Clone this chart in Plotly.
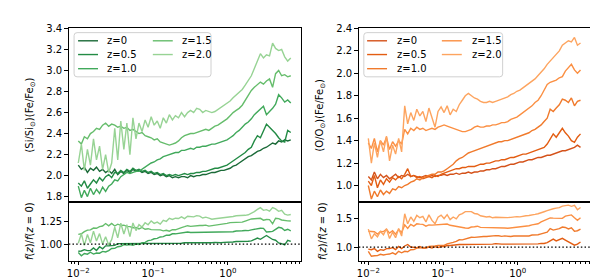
import numpy as np
import plotly.graph_objects as go

W, H = 598, 280

# log10 of x positions
log_x = [-2.000, -1.959, -1.919, -1.878, -1.838, -1.797, -1.757, -1.716, -1.675, -1.635,
         -1.594, -1.554, -1.513, -1.473, -1.432, -1.391, -1.351, -1.310, -1.270, -1.229,
         -1.189, -1.148, -1.107, -1.067, -1.026, -0.986, -0.945, -0.905, -0.864, -0.823,
         -0.783, -0.742, -0.702, -0.661, -0.621, -0.580, -0.539, -0.499, -0.458, -0.418,
         -0.377, -0.337, -0.296, -0.255, -0.215, -0.174, -0.134, -0.093, -0.053, -0.012,
         0.029, 0.069, 0.110, 0.150, 0.191, 0.231, 0.272, 0.313, 0.353, 0.394,
         0.434, 0.475, 0.515, 0.556, 0.597, 0.637, 0.678, 0.718, 0.759, 0.799, 0.840]

labels = ["z=0", "z=0.5", "z=1.0", "z=1.5", "z=2.0"]

si_z0 = [2.10, 2.06, 2.08, 2.03, 2.07, 2.05, 2.08, 2.04, 2.06, 2.03,
         2.05, 2.02, 2.06, 2.01, 2.04, 2.02, 2.05, 2.03, 2.06, 2.04,
         2.05, 2.03, 2.04, 2.02, 2.03, 2.01, 2.02, 2.00, 2.01, 1.99,
         2.00, 1.98, 1.99, 1.98, 1.99, 1.99, 1.98, 2.00, 1.99, 2.00,
         2.00, 2.01, 2.01, 2.02, 2.03, 2.03, 2.04, 2.05, 2.05, 2.06,
         2.07, 2.09, 2.10, 2.12, 2.14, 2.16, 2.18, 2.19, 2.21, 2.23,
         2.24, 2.26, 2.27, 2.29, 2.31, 2.30, 2.33, 2.32, 2.34, 2.33, 2.34]
si_z05 = [1.93, 1.90, 1.95, 1.88, 1.92, 1.96, 1.93, 1.98, 1.95, 1.99,
          2.01, 1.98, 2.03, 2.02, 2.05, 2.03, 2.06, 2.04, 2.07, 2.05,
          2.06, 2.04, 2.05, 2.03, 2.04, 2.02, 2.03, 2.01, 2.02, 2.00,
          2.01, 2.00, 2.01, 2.00, 2.01, 2.02, 2.01, 2.02, 2.02, 2.03,
          2.03, 2.04, 2.04, 2.05, 2.06, 2.07, 2.07, 2.08, 2.09, 2.10,
          2.12, 2.14, 2.16, 2.18, 2.20, 2.22, 2.25, 2.27, 2.33, 2.38,
          2.36, 2.42, 2.49, 2.46, 2.43, 2.40, 2.36, 2.33, 2.32, 2.43, 2.41]
si_z10 = [1.90, 1.79, 1.86, 1.80, 1.88, 1.82, 1.87, 1.83, 1.89, 1.85,
          1.90, 1.92, 1.96, 1.95, 1.99, 2.01, 2.03, 2.02, 2.03, 2.04,
          2.04, 2.06, 2.08, 2.10, 2.12, 2.13, 2.15, 2.16, 2.18, 2.19,
          2.20, 2.21, 2.22, 2.22, 2.24, 2.24, 2.25, 2.26, 2.25, 2.27,
          2.27, 2.28, 2.28, 2.29, 2.30, 2.30, 2.31, 2.32, 2.33, 2.34,
          2.36, 2.38, 2.41, 2.43, 2.46, 2.49, 2.51, 2.54, 2.58, 2.61,
          2.64, 2.66, 2.58, 2.61, 2.64, 2.68, 2.77, 2.74, 2.70, 2.72, 2.69]
si_z15 = [2.33, 2.30, 2.37, 2.35, 2.40, 2.42, 2.45, 2.44, 2.48, 2.50,
          2.47, 2.49, 2.48, 2.46, 2.47, 2.45, 2.46, 2.43, 2.44, 2.42,
          2.40, 2.41, 2.38, 2.37, 2.36, 2.34, 2.35, 2.32, 2.31, 2.30,
          2.29, 2.30, 2.31, 2.33, 2.36, 2.38, 2.39, 2.40, 2.40, 2.41,
          2.42, 2.43, 2.44, 2.43, 2.45, 2.47, 2.48, 2.50, 2.52, 2.54,
          2.57, 2.60, 2.62, 2.64, 2.67, 2.72, 2.77, 2.81, 2.84, 2.87,
          2.89, 2.87, 2.90, 2.92, 2.84, 2.97, 3.00, 2.95, 2.96, 2.94, 2.95]
si_z20 = [2.12, 2.30, 2.05, 2.25, 2.10, 2.35, 2.15, 2.28, 2.06, 2.20,
          2.03, 2.12, 2.45, 2.15, 2.52, 2.25, 2.50, 2.20, 2.55, 2.35,
          2.50, 2.42, 2.53, 2.46, 2.56, 2.48, 2.52, 2.45, 2.55, 2.50,
          2.58, 2.53, 2.57, 2.55, 2.60, 2.56, 2.60, 2.62, 2.60, 2.64,
          2.63, 2.60, 2.62, 2.61, 2.60, 2.61, 2.63, 2.65, 2.67, 2.69,
          2.71, 2.74, 2.77, 2.80, 2.82, 2.86, 2.90, 2.95, 3.02, 3.10,
          3.16, 3.12, 3.15, 3.14, 3.26, 3.21, 3.19, 3.20, 3.13, 3.09, 3.12]

o_z0 = [1.08, 1.05, 1.12, 1.06, 1.10, 1.07, 1.09, 1.06, 1.08, 1.10,
        1.07, 1.09, 1.08, 1.10, 1.08, 1.09, 1.08, 1.07, 1.08, 1.09,
        1.08, 1.09, 1.08, 1.09, 1.09, 1.10, 1.09, 1.10, 1.10, 1.11,
        1.10, 1.11, 1.11, 1.12, 1.11, 1.12, 1.12, 1.13, 1.13, 1.14,
        1.14, 1.15, 1.15, 1.16, 1.17, 1.17, 1.18, 1.19, 1.19, 1.20,
        1.21, 1.21, 1.22, 1.23, 1.23, 1.24, 1.25, 1.25, 1.26, 1.27,
        1.27, 1.28, 1.29, 1.30, 1.31, 1.31, 1.32, 1.33, 1.34, 1.36, 1.34]
o_z05 = [1.04, 1.00, 1.09, 0.98, 1.05, 1.01, 1.06, 1.03, 1.07, 1.05,
         1.08, 1.06, 1.10, 1.15, 1.08, 1.09, 1.07, 1.08, 1.06, 1.07,
         1.08, 1.07, 1.09, 1.08, 1.10, 1.11, 1.12, 1.13, 1.14, 1.15,
         1.15, 1.16, 1.16, 1.17, 1.17, 1.17, 1.18, 1.19, 1.19, 1.20,
         1.20, 1.21, 1.22, 1.22, 1.23, 1.23, 1.24, 1.25, 1.25, 1.26,
         1.27, 1.28, 1.28, 1.29, 1.30, 1.31, 1.32, 1.33, 1.34, 1.37,
         1.41, 1.46, 1.43, 1.47, 1.51, 1.47, 1.44, 1.40, 1.385, 1.43, 1.46]
o_z10 = [1.00, 0.88, 0.95, 0.90, 0.96, 0.92, 0.95, 0.93, 0.97, 0.96,
         0.99, 0.98, 1.00, 1.01, 1.03, 1.04, 1.06, 1.05, 1.07, 1.08,
         1.09, 1.10, 1.10, 1.12, 1.12, 1.13, 1.15, 1.17, 1.19, 1.22,
         1.24, 1.25, 1.27, 1.29, 1.30, 1.31, 1.32, 1.33, 1.34, 1.35,
         1.36, 1.37, 1.38, 1.39, 1.39, 1.40, 1.40, 1.41, 1.42, 1.43,
         1.44, 1.45, 1.46, 1.47, 1.49, 1.50, 1.52, 1.54, 1.57, 1.60,
         1.68, 1.66, 1.69, 1.72, 1.77, 1.76, 1.74, 1.78, 1.71, 1.75, 1.76]
o_z15 = [1.38, 1.33, 1.42, 1.30, 1.40, 1.36, 1.43, 1.32, 1.39, 1.35,
         1.40, 1.37, 1.50, 1.46, 1.51, 1.49, 1.52, 1.50, 1.51, 1.49,
         1.50, 1.51, 1.50, 1.52, 1.53, 1.54, 1.53, 1.52, 1.51, 1.50,
         1.49, 1.48, 1.48, 1.49, 1.50, 1.52, 1.53, 1.52, 1.52, 1.53,
         1.53, 1.54, 1.54, 1.55, 1.56, 1.56, 1.57, 1.59, 1.60, 1.61,
         1.63, 1.65, 1.67, 1.69, 1.71, 1.74, 1.76, 1.80, 1.85, 1.90,
         1.92, 1.93, 1.94, 1.96, 1.97, 2.02, 2.05, 2.08, 2.03, 2.00, 2.03]
o_z20 = [1.42, 1.20, 1.38, 1.25, 1.40, 1.30, 1.44, 1.22, 1.36, 1.28,
         1.42, 1.30, 1.71, 1.55, 1.65, 1.58, 1.68, 1.62, 1.66, 1.57,
         1.69, 1.60, 1.52, 1.66, 1.70, 1.65, 1.71, 1.63, 1.68, 1.66,
         1.72, 1.76, 1.80, 1.82, 1.80, 1.78, 1.77, 1.75, 1.74, 1.74,
         1.75, 1.74, 1.75, 1.76, 1.77, 1.78, 1.79, 1.81, 1.82, 1.84,
         1.85, 1.87, 1.89, 1.91, 1.93, 1.95, 1.98, 2.01, 2.04, 2.08,
         2.11, 2.14, 2.17, 2.20, 2.25, 2.27, 2.29, 2.28, 2.32, 2.25, 2.27]

si_series = [si_z0, si_z05, si_z10, si_z15, si_z20]
o_series = [o_z0, o_z05, o_z10, o_z15, o_z20]

greens = ["#1b6a38", "#238b45", "#41a95b", "#66bd6c", "#97d394"]
oranges = ["#d4521a", "#e35d12", "#f07a2c", "#fb8f42", "#fda45f"]

x = 10 ** np.array(log_x)

fig = go.Figure()

def add_panel(series, colors, xa_main, ya_main, xa_rat, ya_rat):
    base = np.array(series[0])
    for s, c in zip(series, colors):
        arr = np.array(s)
        fig.add_trace(go.Scatter(x=x, y=arr, mode="lines", line=dict(color=c, width=1.4),
                                 xaxis=xa_main, yaxis=ya_main, showlegend=False))
    for s, c in zip(series[1:], colors[1:]):
        arr = np.array(s)
        fig.add_trace(go.Scatter(x=x, y=arr / base, mode="lines", line=dict(color=c, width=1.4),
                                 xaxis=xa_rat, yaxis=ya_rat, showlegend=False))

add_panel(si_series, greens, "x", "y", "x2", "y2")
add_panel(o_series, oranges, "x3", "y3", "x4", "y4")

def px_x(p):
    return p / W

def px_y(p):
    return 1 - p / H

left_dom = [px_x(59), px_x(292)]
right_dom = [px_x(350), px_x(582.7)]
main_dom = [px_y(192), px_y(15)]
rat_dom = [px_y(252), px_y(192)]
xr = [-2.127, 0.977]

font = dict(family="DejaVu Sans", size=10, color="black")
frame = dict(showline=True, mirror=True, linecolor="black", linewidth=1.2,
             showgrid=False, zeroline=False)

minor_vals = [0.008, 0.009] + [k * 0.01 for k in range(2, 10)] + \
             [k * 0.1 for k in range(2, 10)] + [float(k) for k in range(2, 10)]

xmain = dict(type="log", range=xr, showticklabels=False, ticks="", **frame)
xrat = dict(type="log", range=xr, tickvals=[0.01, 0.1, 1],
            ticktext=["10<sup>\u22122</sup>", "10<sup>\u22121</sup>", "10<sup>0</sup>"],
            ticks="outside", ticklen=3.5, tickwidth=1, tickcolor="black",
            minor=dict(ticks="outside", ticklen=2, tickwidth=0.8, tickcolor="black",
                       tickvals=minor_vals),
            tickfont=font, **frame)
ycommon = dict(ticks="outside", ticklen=3.5, tickwidth=1, tickcolor="black", tickfont=font, **frame)

fig.update_layout(
    width=W, height=H,
    margin=dict(l=0, r=0, t=0, b=0),
    paper_bgcolor="white", plot_bgcolor="white",
    font=font,
    xaxis=dict(domain=left_dom, anchor="y", **xmain),
    xaxis2=dict(domain=left_dom, anchor="y2", matches=None, **xrat),
    xaxis3=dict(domain=right_dom, anchor="y3", **xmain),
    xaxis4=dict(domain=right_dom, anchor="y4", **xrat),
    yaxis=dict(domain=main_dom, anchor="x", range=[1.753, 3.407],
               tickvals=[1.8, 2.0, 2.2, 2.4, 2.6, 2.8, 3.0, 3.2, 3.4], tickformat=".1f", **ycommon),
    yaxis2=dict(domain=rat_dom, anchor="x2", range=[0.815, 1.479],
                tickvals=[1.0, 1.25], tickformat=".2f", **ycommon),
    yaxis3=dict(domain=main_dom, anchor="x3", range=[0.857, 2.406],
                tickvals=[1.0, 1.2, 1.4, 1.6, 1.8, 2.0, 2.2, 2.4], tickformat=".1f", **ycommon),
    yaxis4=dict(domain=rat_dom, anchor="x4", range=[0.764, 1.798],
                tickvals=[1.0, 1.5], tickformat=".1f", **ycommon),
)

shapes = []
annotations = []

# dotted reference lines
for xa, ya in (("x2", "y2"), ("x4", "y4")):
    shapes.append(dict(type="line", xref=f"{xa} domain", yref=ya, x0=0, x1=1, y0=1, y1=1,
                       line=dict(color="black", width=1.3, dash="1.5px,2.2px"), layer="above"))

def P(px, py):
    return f"{px / W:.5f},{1 - py / H:.5f}"

def rounded_rect(x0, y0, x1, y1, r=3):
    return (f"M {P(x0 + r, y0)} L {P(x1 - r, y0)} Q {P(x1, y0)} {P(x1, y0 + r)} "
            f"L {P(x1, y1 - r)} Q {P(x1, y1)} {P(x1 - r, y1)} L {P(x0 + r, y1)} "
            f"Q {P(x0, y1)} {P(x0, y1 - r)} L {P(x0, y0 + r)} Q {P(x0, y0)} {P(x0 + r, y0)} Z")

def legend(box_x0, box_x1, col1_line, col2_line, text_gap, colors):
    shapes.append(dict(type="path", xref="paper", yref="paper",
                       path=rounded_rect(box_x0, 20, box_x1, 65),
                       fillcolor="rgba(255,255,255,0.8)",
                       line=dict(color="#d0d0d0", width=1), layer="above"))
    rows = [28.3, 42.3, 56.7]
    pos = [(col1_line, rows[0]), (col1_line, rows[1]), (col1_line, rows[2]),
           (col2_line, rows[0]), (col2_line, rows[1])]
    for (lx, ly), lab, c in zip(pos, labels, colors):
        shapes.append(dict(type="line", xref="paper", yref="paper",
                           x0=px_x(lx), x1=px_x(lx + 20), y0=px_y(ly), y1=px_y(ly),
                           line=dict(color=c, width=1.4), layer="above"))
        annotations.append(dict(text=lab, xref="paper", yref="paper",
                                x=px_x(lx + 20 + text_gap), y=px_y(ly),
                                xanchor="left", yanchor="middle", showarrow=False,
                                font=dict(family="DejaVu Sans", size=10, color="black")))

legend(64.3, 201.7, 68.3, 143.3, 7, greens)
legend(355, 494.3, 358.3, 433.3, 8, oranges)

def ytitle(text, xpx, ypx):
    annotations.append(dict(text=text, xref="paper", yref="paper", x=px_x(xpx), y=px_y(ypx),
                            xanchor="center", yanchor="middle", textangle=-90, showarrow=False,
                            font=dict(family="DejaVu Sans", size=10, color="black")))

ytitle("(Si/Si<sub>\u2299</sub>)(Fe/Fe<sub>\u2299</sub>)", 21, 103.5)
ytitle("<i>f</i>(<i>z</i>)/<i>f</i>(<i>z</i> = 0)", 19, 222)
ytitle("(O/O<sub>\u2299</sub>)(Fe/Fe<sub>\u2299</sub>)", 312, 103.5)
ytitle("<i>f</i>(<i>z</i>)/<i>f</i>(<i>z</i> = 0)", 313, 222)

fig.update_layout(shapes=shapes, annotations=annotations)

fig.write_html("out.html")
